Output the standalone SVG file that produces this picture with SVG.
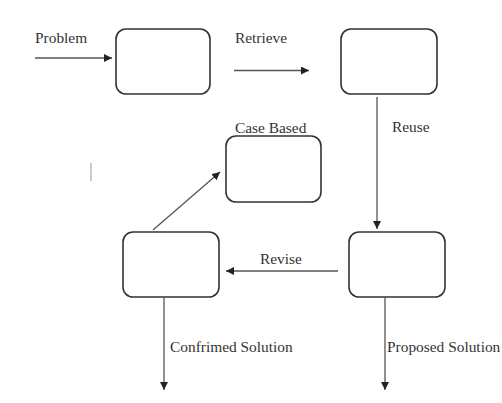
<svg xmlns="http://www.w3.org/2000/svg" width="502" height="403" viewBox="0 0 502 403">
<style>
.box{fill:#fff;stroke:#333;stroke-width:1.6}
.ln{stroke:#555;stroke-width:1.3;fill:none}
text{font-family:"Liberation Serif","Times New Roman",serif;font-size:15.4px;fill:#333}
</style>
<defs>
<marker id="ah" viewBox="0 0 10 10" refX="10" refY="5" markerWidth="8" markerHeight="8" markerUnits="userSpaceOnUse" orient="auto">
<path d="M0,0 L10,5 L0,10 Z" fill="#222"/>
</marker>
</defs>
<rect width="502" height="403" fill="#fff"/>
<g id="n1"><rect class="box" x="116" y="29" width="94" height="65" rx="10"/></g>
<g id="n2"><rect class="box" x="341" y="29" width="96" height="65" rx="10"/></g>
<g id="n3"><rect class="box" x="226" y="136" width="95" height="66" rx="10"/><text x="235" y="133">Case Based</text></g>
<g id="n4"><rect class="box" x="123" y="232" width="96" height="65" rx="10"/></g>
<g id="n5"><rect class="box" x="349" y="232" width="96" height="65" rx="10"/></g>
<g id="connectors">
<line class="ln" x1="35" y1="58" x2="112" y2="58" marker-end="url(#ah)"/>
<text x="35" y="43">Problem</text>
<line class="ln" x1="234" y1="70.5" x2="309" y2="70.5" marker-end="url(#ah)"/>
<text x="235" y="43">Retrieve</text>
<line class="ln" x1="377" y1="97" x2="377" y2="229" marker-end="url(#ah)"/>
<text x="392" y="132">Reuse</text>
<line class="ln" x1="338" y1="271" x2="226" y2="271" marker-end="url(#ah)"/>
<text x="260" y="264">Revise</text>
<line class="ln" x1="153" y1="230" x2="220" y2="172" marker-end="url(#ah)"/>
<line class="ln" x1="164" y1="297" x2="164" y2="390" marker-end="url(#ah)"/>
<text x="170" y="352">Confrimed Solution</text>
<line class="ln" x1="385" y1="297" x2="385" y2="390" marker-end="url(#ah)"/>
<text x="387" y="352">Proposed Solution</text>
</g>
<line x1="91" y1="163" x2="91" y2="181" stroke="#999" stroke-width="1"/>
</svg>
